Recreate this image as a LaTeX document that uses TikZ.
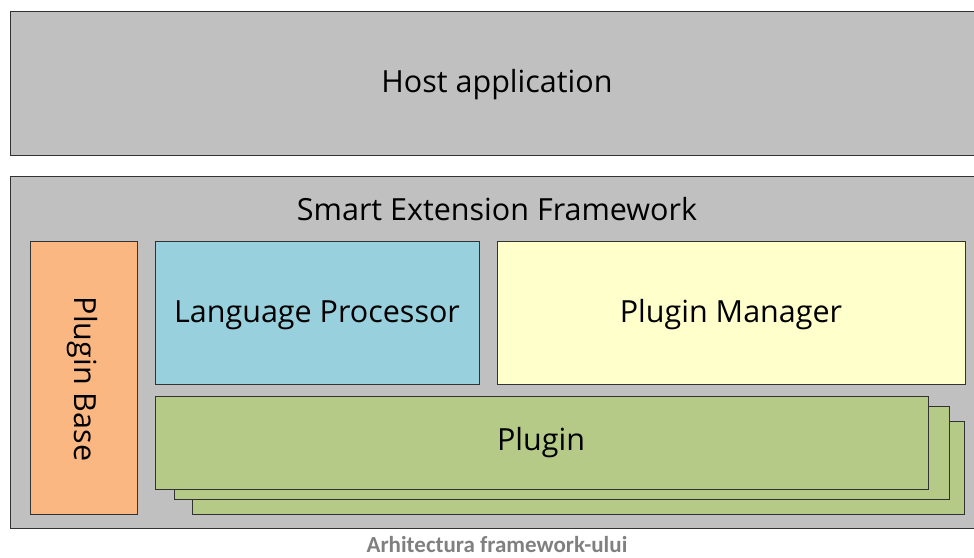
\documentclass[tikz,border=0pt]{standalone}
\usepackage{fontspec}
\setmainfont{Open Sans}
\newfontfamily\capfont{Carlito}
\definecolor{boxgray}{RGB}{192,192,192}
\definecolor{pborange}{RGB}{250,183,130}
\definecolor{lpblue}{RGB}{152,208,222}
\definecolor{pmyellow}{RGB}{255,255,204}
\definecolor{plgreen}{RGB}{182,202,135}
\definecolor{edge}{RGB}{50,50,50}
\definecolor{capgray}{RGB}{128,128,128}
\tikzset{
  blk/.style={draw=edge, line width=0.9pt},
  lbl/.style={font=\fontsize{30.5}{36}\selectfont, text=black},
}
\begin{document}
\begin{tikzpicture}[x=1pt,y=-1pt]
\useasboundingbox (0,0) rectangle (974,557);
% host
\path[blk, fill=boxgray] (10,11) rectangle (990,155);
\node[lbl] (host) at (497,85) {Host application};
% outer
\path[blk, fill=boxgray] (10,176) rectangle (990,528);
\node[lbl] (sef) at (497,209) {Smart Extension Framework};
% plugin base
\path[blk, fill=pborange] (30,241) rectangle (137,514);
\node[lbl, rotate=-90] (pb) at (82,379) {Plugin Base};
% language processor
\path[blk, fill=lpblue] (155,241) rectangle (479,384);
\node[lbl] (lp) at (317,315) {Language Processor};
% plugin manager
\path[blk, fill=pmyellow] (497,241) rectangle (965,384);
\node[lbl] (pm) at (731,315) {Plugin Manager};
% plugins stacked
\path[blk, fill=plgreen] (192,421) rectangle (964,514);
\path[blk, fill=plgreen] (174,406) rectangle (949,499);
\path[blk, fill=plgreen] (155,396) rectangle (928,489);
\node[lbl] (pl) at (541,443) {Plugin};
% caption
\node[font=\capfont\bfseries\fontsize{23}{27}\selectfont, text=capgray] (cap) at (497,545) {Arhitectura framework-ului};
\end{tikzpicture}
\end{document}
